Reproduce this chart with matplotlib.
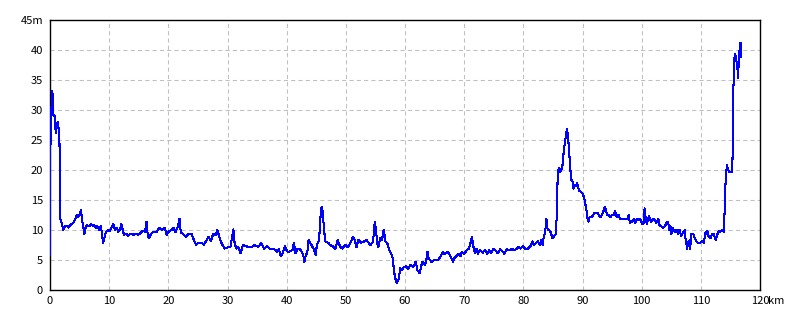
import matplotlib
matplotlib.use("Agg")
import matplotlib.pyplot as plt
import matplotlib.transforms as mtransforms

# distance along route (km) and elevation (m)
dist_km = [
    0.0, 0.02, 0.17, 0.39, 0.5, 0.56, 0.85, 0.96, 1.13, 1.35, 1.46, 1.58, 1.63, 1.75,
    1.97, 2.25, 2.54, 2.82, 3.1, 3.38, 3.66, 3.94, 4.23, 4.5, 4.8, 5.07, 5.24, 5.4,
    5.63, 5.8, 6.08, 6.3, 6.65, 6.93, 7.2, 7.5, 7.77, 8.0, 8.28, 8.6, 8.8, 8.96,
    9.18, 9.46, 9.86, 10.1, 10.5, 10.7, 11.0, 11.3, 11.55, 11.8, 12.05, 12.3, 12.5,
    12.85, 13.2, 13.6, 14.1, 14.5, 14.9, 15.2, 15.7, 16.06, 16.3, 16.5, 16.7, 17.0,
    17.4, 18.0, 18.5, 18.9, 19.4, 19.7, 20.06, 20.5, 20.9, 21.2, 21.6, 21.9, 22.1,
    22.5, 23.0, 23.4, 23.9, 24.3, 24.7, 25.1, 25.6, 26.0, 26.4, 26.8, 27.2, 27.6,
    28.0, 28.3, 28.6, 29.0, 29.5, 30.1, 30.5, 30.8, 31.0, 31.2, 31.5, 31.8, 32.2,
    32.6, 33.2, 33.6,
    34.0, 34.6, 35.2, 35.7, 36.2, 36.7, 37.1, 37.7, 38.1, 38.4, 38.7, 39.0, 39.3,
    39.7, 40.1, 40.5, 41.0, 41.2, 41.5, 41.8, 42.2, 42.5, 42.8, 43.0, 43.2, 43.5,
    43.7, 44.0, 44.3, 44.6, 44.9, 45.1, 45.4, 45.6, 45.8, 46.0, 46.3, 46.5, 47.0,
    47.3, 47.8, 48.2, 48.6, 49.0, 49.4, 49.9, 50.4,
    50.8, 51.2, 51.5, 51.8, 52.1, 52.5, 53.1, 53.5, 53.9, 54.2, 54.6, 54.9, 55.1,
    55.3, 55.5, 55.8, 56.1, 56.4, 56.7, 57.0, 57.3, 57.7, 58.0, 58.1, 58.4, 58.6,
    58.9, 59.2, 59.5, 59.8, 60.2, 60.5, 60.9, 61.4, 61.8, 62.1, 62.5, 62.9, 63.4,
    63.6, 63.8, 64.0, 64.5, 64.9, 65.3, 65.7, 66.1, 66.4, 66.7,
    67.3, 67.5, 67.8, 68.1, 68.4, 68.8, 69.1, 69.4, 69.6, 70.0, 70.4, 70.8, 71.0,
    71.3, 71.5, 71.8, 72.1, 72.3, 72.7, 73.1, 73.5, 73.9, 74.2, 74.6, 75.0, 75.3,
    75.7, 76.1, 76.5, 76.8, 77.2, 77.7, 78.1, 78.4, 78.8, 79.2, 79.5, 79.9, 80.3,
    80.8, 81.2, 81.5, 81.8, 82.1, 82.5, 82.8, 83.0, 83.3, 83.4, 83.6, 83.8, 83.9,
    84.1,
    84.5, 84.7, 84.9, 85.2, 85.5, 85.7, 85.8, 86.0, 86.2, 86.4, 86.6, 86.8, 87.0,
    87.2, 87.4, 87.5, 87.7, 87.9, 88.1, 88.3, 88.5, 88.7, 88.9, 89.1, 89.4, 89.7,
    90.0, 90.3, 90.5, 90.7, 90.8, 91.0, 91.2, 91.5, 91.8, 92.1, 92.5, 92.8, 93.0,
    93.3, 93.6, 93.8, 94.0, 94.2, 94.4, 94.7, 95.0, 95.3, 95.5, 95.8, 96.1, 96.3,
    96.7, 97.1, 97.6, 97.8, 98.0, 98.4, 98.7, 98.9, 99.2, 99.5, 99.8, 100.1, 100.3,
    100.5, 100.7, 100.9, 101.2,
    101.4, 101.6, 101.9, 102.2, 102.5, 102.8, 103.0, 103.3, 103.6, 103.9, 104.2,
    104.5, 104.6, 104.9, 105.0, 105.3, 105.6, 105.9, 106.2, 106.4, 106.7, 107.0,
    107.3, 107.4, 107.7, 107.8, 108.1, 108.2, 108.4, 108.7, 109.0, 109.2, 109.5,
    109.9, 110.2, 110.5, 110.8, 111.0, 111.1, 111.3, 111.6, 111.9, 112.2, 112.4,
    112.5, 112.7, 113.0, 113.3, 113.6, 113.9, 114.0, 114.2, 114.4, 114.6, 114.8,
    115.2, 115.3, 115.4, 115.5, 115.7, 115.8, 116.0, 116.2, 116.3, 116.4, 116.6,
    116.7, 116.8,
]
elev_m = [
    5.8, 21.1, 28.9, 33.2, 31.7, 29.2, 28.9, 26.1, 27.8, 28.0, 26.7, 26.4, 21.9, 11.9,
    11.1, 10.0, 10.6, 10.7, 10.4, 10.8, 11.0, 11.2, 11.7, 12.5, 12.2, 12.8, 13.4, 11.7,
    10.6, 9.3, 10.6, 10.8, 10.6, 11.0, 10.7, 10.8, 10.4, 10.7, 10.0, 10.7, 9.2, 7.8,
    8.6, 9.7, 10.0, 9.8, 10.6, 11.0, 10.0, 10.3, 9.7, 10.0, 11.0, 10.0, 9.2,
    9.4, 9.0, 9.4, 9.2, 9.4, 9.2, 9.4, 9.9, 9.7, 11.4, 9.4, 8.6, 9.2,
    9.7, 9.6, 10.4, 10.0, 10.4, 9.2, 9.7, 10.0, 10.4, 9.6, 10.6, 11.9, 9.6,
    9.3, 8.9, 9.4, 9.4, 8.4, 7.5, 7.9, 7.9, 7.5, 8.2, 8.9, 8.2, 9.4,
    9.2, 10.0, 8.9, 7.8, 6.9, 7.1, 7.2, 8.9, 10.1, 7.8, 6.9, 7.2, 6.1,
    7.5, 7.3, 7.1,
    7.1, 7.5, 7.2, 7.8, 6.9, 7.3, 6.9, 6.9, 6.7, 6.4, 6.8, 5.6, 6.1,
    7.3, 6.4, 6.4, 6.7, 7.9, 6.1, 6.8, 6.9, 6.4, 5.8, 4.7, 5.6, 6.4,
    8.3, 7.8, 7.3, 6.8, 5.8, 7.5, 8.1, 10.0, 13.6, 13.8, 10.3, 8.1, 7.9,
    7.5, 7.3, 6.8, 8.3, 7.3, 6.9, 7.5, 7.1,
    7.9, 8.9, 8.3, 7.1, 8.4, 7.9, 8.1, 8.3, 7.8, 7.5, 8.1, 11.4, 10.0,
    7.8, 7.2, 8.6, 8.3, 10.0, 8.1, 7.8, 6.7, 6.0, 5.0, 3.3, 1.8, 1.2,
    1.7, 3.6, 3.4, 3.8, 4.0, 3.5, 4.2, 3.8, 4.7, 3.3, 2.8, 4.7, 4.2,
    4.9, 6.4, 5.3, 4.6, 5.0, 5.0, 5.1, 5.8, 6.4, 6.0,
    6.4, 6.0, 5.4, 4.7, 5.4, 5.8, 6.0, 5.6, 6.4, 6.0, 6.6, 6.9, 7.5,
    8.9, 7.5, 6.2, 6.9, 6.0, 6.7, 6.2, 6.7, 6.0, 6.6, 6.2, 6.9, 6.6,
    6.1, 6.8, 6.4, 6.0, 6.8, 6.6, 6.9, 6.6, 6.8, 7.2, 6.9, 7.3, 6.9,
    6.9, 7.3, 8.1, 7.5, 7.8, 8.1, 7.5, 8.3, 7.5, 8.6, 9.3, 10.6, 11.8,
    10.1,
    9.9, 9.4, 8.6, 9.0, 9.3, 13.6, 19.2, 20.4, 19.7, 20.0, 20.6, 22.8, 24.4,
    25.8, 26.9, 25.8, 23.9, 20.6, 18.4, 18.1, 16.9, 17.5, 17.3, 17.8, 16.6, 16.4,
    16.1, 15.3, 14.2, 13.1, 12.1, 11.4, 12.2, 12.1, 12.5, 12.9, 12.9, 12.5, 12.1,
    12.5, 13.3, 13.9, 13.1, 12.5, 12.5, 12.1, 12.5, 12.5, 13.1, 12.1, 12.5, 11.9,
    11.9, 11.9, 11.9, 12.5, 11.2, 11.4, 11.8, 11.2, 11.9, 11.6, 11.8, 11.0, 11.0,
    13.6, 11.8, 11.0, 12.3,
    11.8, 11.4, 11.9, 11.6, 11.2, 11.9, 10.8, 10.6, 10.4, 10.6, 11.2,
    11.4, 10.0, 10.6, 9.3, 10.3, 9.7, 10.0, 9.3, 10.0, 9.0, 9.7,
    10.0, 8.6, 6.9, 7.8, 8.3, 6.9, 9.3, 9.4, 8.6, 8.1, 7.9,
    7.9, 8.1, 7.9, 9.7, 9.3, 9.9, 9.0, 8.6, 9.3, 9.3, 8.6,
    8.3, 9.0, 9.8, 9.7, 10.0, 9.7, 12.8, 18.6, 20.8, 20.0, 19.7,
    19.7, 19.7, 23.9, 33.6, 38.9, 39.3, 38.3, 36.7, 35.3, 38.1, 40.8,
    41.2, 38.9,
]

x_ticks = list(range(0, 121, 10))
x_labels = [str(v) for v in x_ticks]
y_ticks = list(range(0, 46, 5))
y_labels = [str(v) for v in y_ticks[:-1]] + ["45m"]

plt.rcParams['font.family'] = ['Noto Sans CJK JP', 'DejaVu Sans']

fig = plt.figure(figsize=(8, 3.2), dpi=100)
ax = fig.add_axes([50 / 800, 30 / 320, 710 / 800, 270 / 320])

ax.plot(dist_km, elev_m, color='#0000ff', linewidth=0.75, antialiased=False, zorder=3)

ax.set_xlim(0, 120)
ax.set_ylim(0, 45)
ax.set_xticks(x_ticks)
ax.set_xticklabels(x_labels)
ax.set_yticks(y_ticks)
ax.set_yticklabels(y_labels)
ax.tick_params(length=0, labelsize=8, colors='black')
ax.tick_params(axis='y', pad=5)
ax.tick_params(axis='x', pad=4)

# "km" unit written right after the 120 tick number
km_pos = mtransforms.offset_copy(ax.get_xaxis_transform(), fig=fig, x=6, y=-4, units='points')
ax.text(120, 0, "km", transform=km_pos, fontsize=8, ha='left', va='top')

ax.grid(True, color='#c0c0c0', linestyle=(0, (4, 3)), linewidth=0.75)
for s in ax.spines.values():
    s.set_color('black')
    s.set_linewidth(1.0)

fig.savefig('out.png', dpi=100, facecolor='white')
